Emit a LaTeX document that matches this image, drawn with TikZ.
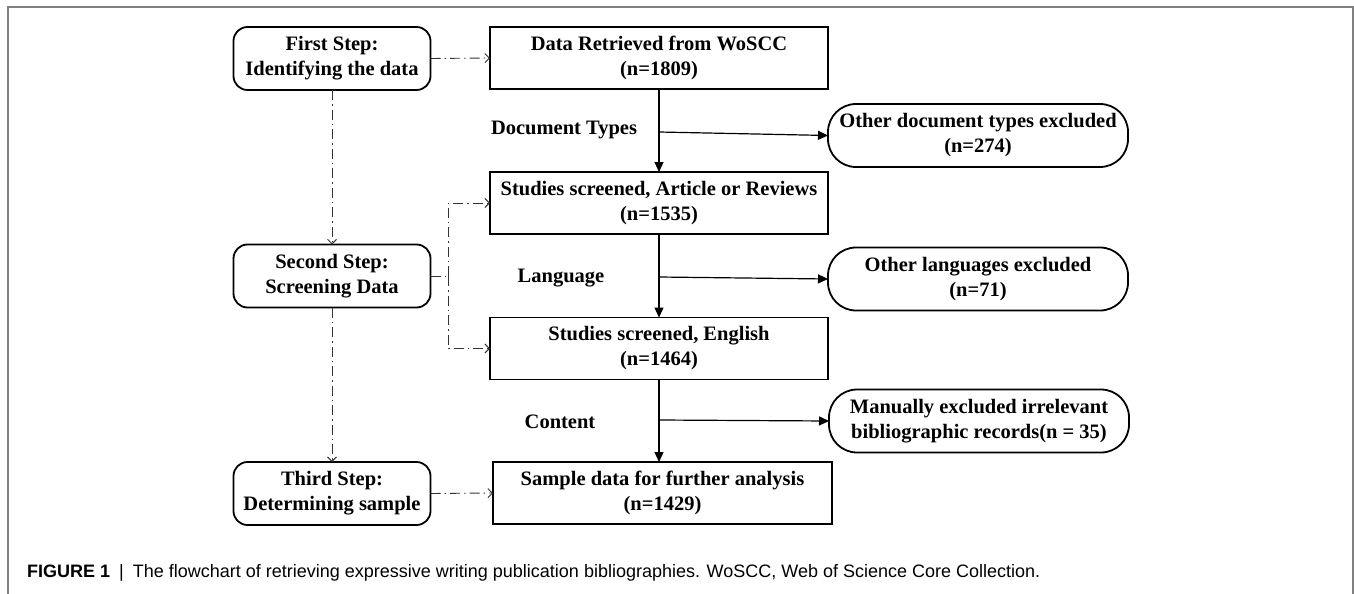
\documentclass[tikz,border=0pt]{standalone}
\usepackage{fontspec}
\setmainfont{Liberation Serif}
\setsansfont{Liberation Sans}
\usetikzlibrary{arrows.meta}
\tikzset{
  boxtext/.style={font=\bfseries\fontsize{20.5}{25}\selectfont, align=center, inner sep=0pt, outer sep=0pt},
  rectbox/.style={boxtext, draw, line width=1.8pt, minimum width=338pt, minimum height=62pt},
  stepbox/.style={boxtext, draw, line width=1.8pt, rounded corners=14pt, minimum width=197pt, minimum height=63pt},
  exclbox/.style={boxtext, draw, line width=1.8pt, rounded corners=28pt, minimum width=300pt, minimum height=63pt},
  lbl/.style={boxtext},
  flow/.style={line width=1.2pt, -{Triangle[length=10pt,width=9pt]}},
  dd/.style={line width=0.9pt, black!80, dash pattern=on 10pt off 4pt on 1.5pt off 4pt},
  ddarrow/.style={dd, -{Straight Barb[length=4.5pt,width=9pt]}},
  frame/.style={line width=2pt, black!50}
}
\begin{document}
\begin{tikzpicture}[x=1pt,y=-1pt]
\useasboundingbox (0,0) rectangle (1354,594);
% frame
\draw[frame] (8,594) -- (8,7) -- (1353,7) -- (1353,594);

% step boxes
\node[stepbox] (first)  at (332,58.5) {First Step:\\Identifying the data};
\node[stepbox] (second) at (332,276)  {Second Step:\\Screening Data};
\node[stepbox] (third)  at (332,493.5){Third Step:\\Determining sample};

% main boxes
\node[rectbox] (data)   at (659,58)    {Data Retrieved from WoSCC\\(n=1809)};
\node[rectbox] (s1)     at (659,203)   {Studies screened, Article or Reviews\\(n=1535)};
\node[rectbox] (s2)     at (659,348.5) {Studies screened, English\\(n=1464)};
\node[rectbox, minimum width=339pt] (sample) at (662.5,493) {Sample data for further analysis\\(n=1429)};

% exclusion boxes
\node[exclbox] (o1) at (978,135.5) {Other document types excluded\\(n=274)};
\node[exclbox] (o2) at (978,279)   {Other languages excluded\\(n=71)};
\node[exclbox] (o3) at (979,421)   {Manually excluded irrelevant\\bibliographic records(n = 35)};

% labels
\node[lbl] (dt)   at (564,130) {Document Types};
\node[lbl] (lang) at (561,278) {Language};
\node[lbl] (cont) at (560,422) {Content};

% branch points
\coordinate (b1) at (659,132);
\coordinate (b2) at (659,277);
\coordinate (b3) at (659,420);
\coordinate (jm) at (448,276);

% solid flow
\draw[flow] (data.south) -- (s1.north);
\draw[flow] (s1.south) -- (s2.north);
\draw[flow] (s2.south) -- (s2.south |- sample.north);
\draw[flow] (b1) -- (o1.west);
\draw[flow] (b2) -- (o2.west);
\draw[flow] (b3) -- (o3.west);

% dash-dot connectors
\draw[ddarrow] (first.east) -- (data.west);
\draw[ddarrow] (first.south) -- (second.north);
\draw[ddarrow] (second.south) -- (third.north);
\draw[dd] (second.east) -- (jm);
\draw[ddarrow] (jm) |- (s1.west);
\draw[ddarrow] (jm) |- (s2.west);
\draw[ddarrow] (third.east) -- (sample.west);

% caption
\node[anchor=west, inner sep=0pt, font=\sffamily\fontsize{18}{20}\selectfont] (cap) at (27,573)
  {\textbf{FIGURE 1}\enspace|\enspace The flowchart of retrieving expressive writing publication bibliographies. WoSCC, Web of Science Core Collection.};
\end{tikzpicture}
\end{document}
